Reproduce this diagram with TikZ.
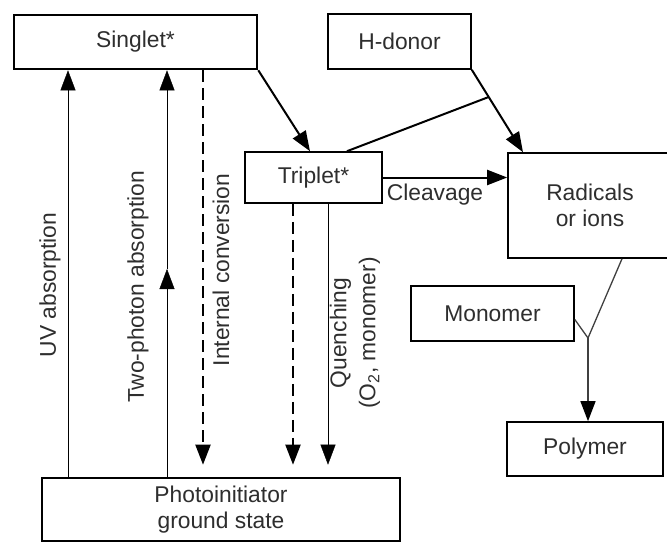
\documentclass[tikz,border=0pt]{standalone}
\usepackage{fontspec}
\setmainfont{Liberation Sans}
\usetikzlibrary{arrows.meta,calc}
\definecolor{txt}{HTML}{2E2E2E}
\definecolor{thin}{HTML}{707070}
\tikzset{
  box/.style={draw=black, line width=1.6pt, fill=white, inner sep=0pt, text=txt, align=center,
    font=\fontsize{22.8}{26}\selectfont},
  heavybox/.style={box, line width=2.6pt},
  lbl/.style={text=txt, font=\fontsize{22.8}{26}\selectfont, inner sep=0pt, align=center},
  tip/.style={-{Triangle[length=20pt,width=15pt,color=black]}},
  thickarrow/.style={tip, line width=2pt, black},
  thinarrow/.style={tip, line width=1.1pt, thin},
  dasharrow/.style={tip, line width=2pt, black, dash pattern=on 12pt off 6pt},
  plainline/.style={line width=2pt, black},
  thinline/.style={line width=1.3pt, black!75}
}
\begin{document}
\begin{tikzpicture}[x=1pt,y=-1pt]
\useasboundingbox (0,0) rectangle (667,543);
\begin{scope}
\clip (0,0) rectangle (667,543);
% boxes
\node[heavybox, minimum width=243pt, minimum height=54pt] (singlet) at (135.5,42) {Singlet*};
\node[box, minimum width=143pt, minimum height=55pt] (hdonor) at (399.5,41.5) {H-donor};
\node[box, minimum width=137pt, minimum height=51pt] (triplet) at (313.5,177.5) {Triplet*};
\node[box, minimum width=164pt, minimum height=105pt] (radicals) at (590,205.5) {Radicals\\or ions};
\node[box, minimum width=163pt, minimum height=55pt] (monomer) at (492.5,313.5) {Monomer};
\node[box, minimum width=156pt, minimum height=54pt] (polymer) at (585,449) {Polymer};
\node[heavybox, minimum width=358pt, minimum height=63pt] (photo) at (221,509.5) {Photoinitiator\\ground state};
\end{scope}

% vertical transitions
\draw[thinarrow] (photo.north -| 68,0) -- (singlet.south -| 68,0);
\coordinate (tpmid) at (167,269);
\draw[thinarrow] (photo.north -| tpmid) -- (tpmid);
\draw[thinarrow] (tpmid) -- (singlet.south -| tpmid);
\draw[dasharrow] (singlet.south -| 203,0) -- ([yshift=12pt]photo.north -| 203,0);
\draw[dasharrow] (triplet.south -| 293,0) -- ([yshift=12pt]photo.north -| 293,0);
\draw[thinarrow] (triplet.south -| 328,0) -- ([yshift=12pt]photo.north -| 328,0);

% labels on verticals
\node[lbl, rotate=90] (uvl) at (50,285) {UV absorption};
\node[lbl, rotate=90] (tpl) at (138,287) {Two-photon absorption};
\node[lbl, rotate=90] (icl) at (221,270) {Internal conversion};
\node[lbl, rotate=90, font=\fontsize{22.8}{29}\selectfont] (ql) at (355,333) {Quenching\\(O\textsubscript{2}, monomer)};

% singlet -> triplet
\draw[thickarrow] (singlet.south east) -- (triplet.north -| 310,0);

% H-donor -> radicals, with triplet joining
\coordinate (hend) at (radicals.north -| 523,0);
\draw[thickarrow] (hdonor.south east) -- (hend);
\coordinate (J) at ($(hdonor.south east)!0.33!(hend)$);
\draw[plainline] (triplet.north -| 347,0) -- (J);

% cleavage
\draw[thickarrow] (triplet.east) -- (triplet.east -| radicals.west);
\node[lbl] (cleav) at (435,195) {Cleavage};

% radicals + monomer -> polymer
\coordinate (K) at (588,338);
\draw[thinline] (radicals.south -| 622,0) -- (K);
\draw[thinline] ([yshift=-6pt]monomer.east) -- (K);
\draw[tip, line width=1.3pt, black!75] (K) -- (polymer.north -| K);
\end{tikzpicture}
\end{document}
